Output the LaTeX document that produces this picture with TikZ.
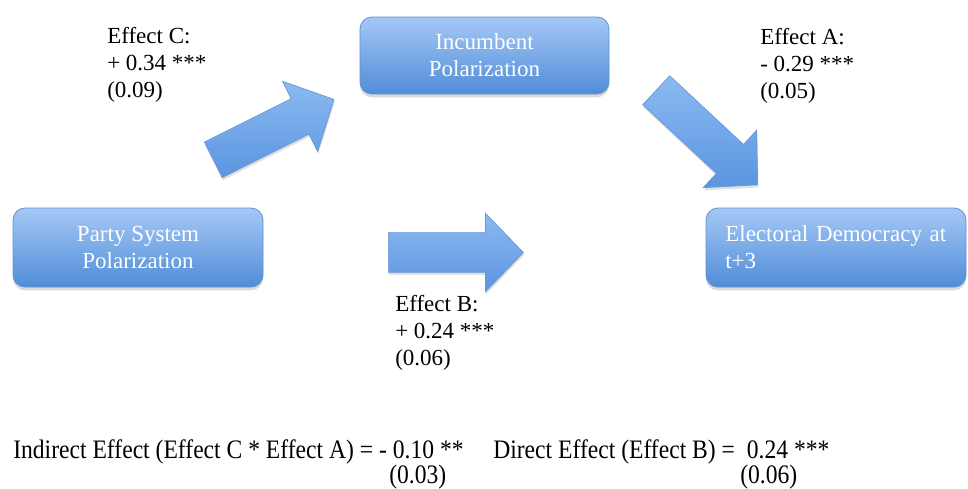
\documentclass[tikz,border=0pt]{standalone}
\usepackage{fontspec}
\setmainfont{Liberation Serif}
\newfontfamily\narrowfont[FakeStretch=0.885]{Liberation Serif}
\usetikzlibrary{shapes.arrows,shadows}
\definecolor{boxtop}{RGB}{165,200,246}
\definecolor{boxbottom}{RGB}{80,141,216}
\definecolor{boxedge}{RGB}{98,146,208}
\definecolor{arrowtop}{RGB}{140,186,241}
\definecolor{arrowbottom}{RGB}{90,149,224}
\definecolor{arrowedge}{RGB}{104,150,212}
\tikzset{
  stage/.style={rounded corners=9pt, draw=boxedge, line width=0.6pt,
    top color=boxtop, bottom color=boxbottom, text=white, align=center,
    font=\fontsize{17.25}{20.25}\selectfont,
    drop shadow={opacity=0.3, shadow xshift=0pt, shadow yshift=-2.5pt}},
  flow/.style={single arrow, draw=arrowedge, line width=0.5pt,
    top color=arrowtop, bottom color=arrowbottom,
    minimum height=101.25pt, inner xsep=0pt, inner ysep=14.6pt,
    text height=0pt, text depth=0pt,
    single arrow head extend=14.6pt, single arrow tip angle=92,
    drop shadow={opacity=0.25, shadow xshift=0.5pt, shadow yshift=-2pt}},
  efflabel/.style={black, align=left, anchor=north west, inner sep=0pt,
    font=\fontsize{17.25}{20.25}\selectfont},
  effsum/.style={black, anchor=west, inner sep=0pt,
    font=\narrowfont\fontsize{20}{22}\selectfont}
}

\begin{document}
\begin{tikzpicture}[x=0.75pt,y=-0.75pt]
  \useasboundingbox (0,0) rectangle (968,489);
  % boxes
  \node[stage, minimum width=187.5pt, minimum height=59.25pt] (party) at (138,247.5) {Party System\\Polarization};
  \node[stage, minimum width=186.75pt, minimum height=57.75pt] (incumbent) at (484.5,55.5) {Incumbent\\Polarization};
  \node[stage, align=left, text width=166pt, inner xsep=14.5pt, minimum height=59.25pt] (democracy) at (836,247.5) {Electoral Democracy at\\t+3};
  % block arrows
  \node[flow, rotate=26.6, anchor=tail] (arrC) at (213,160) {};
  \node[flow, rotate=-43, anchor=tail, minimum height=104pt] (arrA) at (656,90) {};
  \node[flow, anchor=tail] (arrB) at (388,252.5) {};
  % effect labels
  \node[efflabel] (labC) at (107,27) {Effect C:\\+ 0.34 ***\\(0.09)};
  \node[efflabel] (labA) at (760,28) {Effect A:\\- 0.29 ***\\(0.05)};
  \node[efflabel] (labB) at (395,295) {Effect B:\\+ 0.24 ***\\(0.06)};
  % summary
  \node[effsum] (indirect) at (13,452) {Indirect Effect (Effect C * Effect A) = - 0.10 **};
  \node[effsum] (indirectse) at (389,477) {(0.03)};
  \node[effsum] (direct) at (493,452) {Direct Effect (Effect B) =\ \ 0.24 ***};
  \node[effsum] (directse) at (740,477) {(0.06)};
\end{tikzpicture}
\end{document}
